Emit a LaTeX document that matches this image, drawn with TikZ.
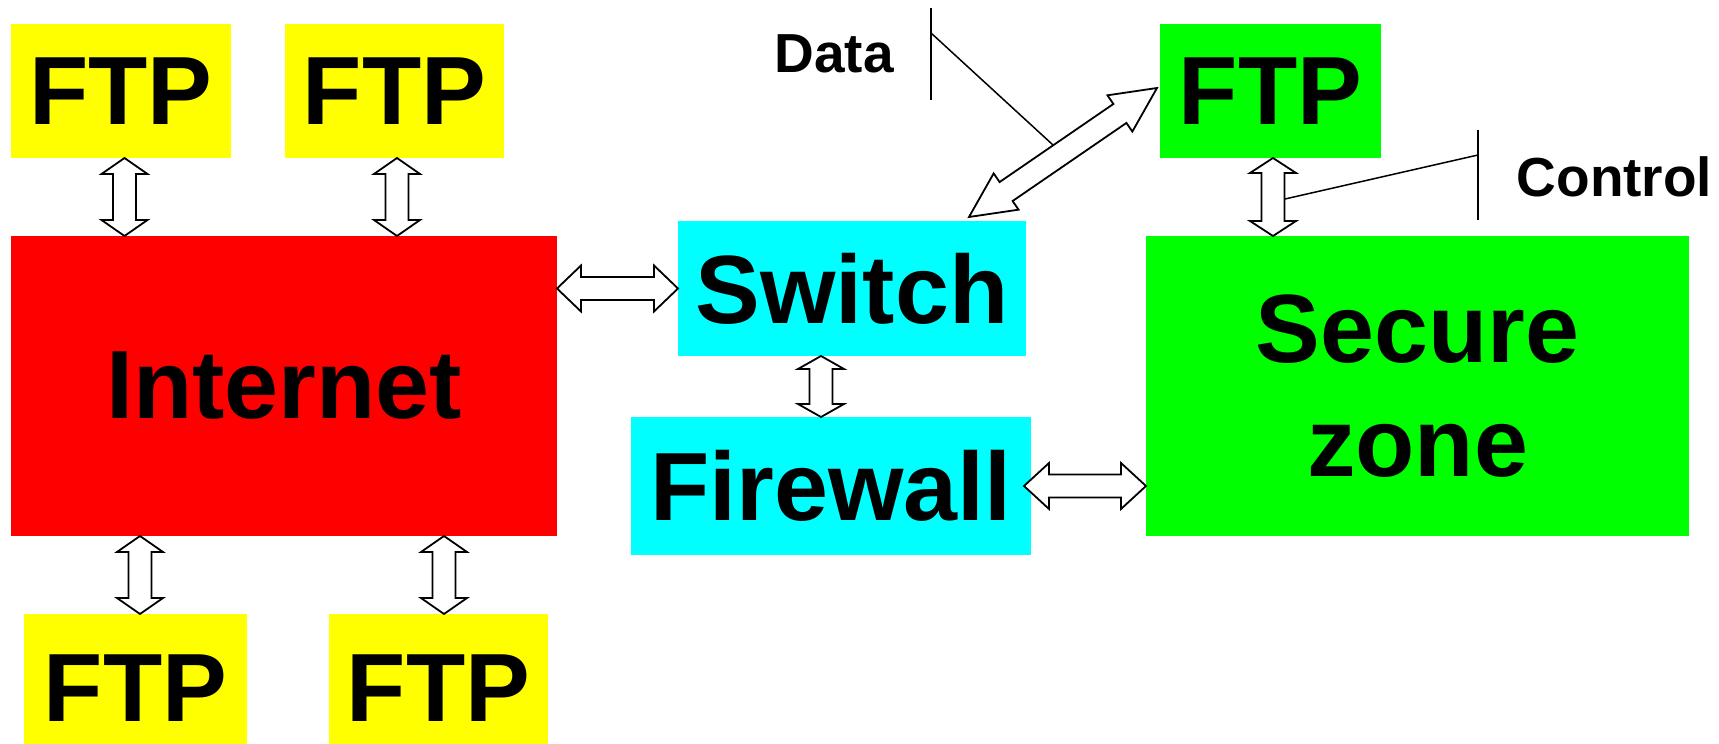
\documentclass[tikz,border=0pt]{standalone}
\usepackage{fontspec}
\setmainfont{Liberation Sans}
\usetikzlibrary{calc}

\definecolor{ftpyellow}{RGB}{255,255,0}
\definecolor{netred}{RGB}{255,0,0}
\definecolor{devcyan}{RGB}{0,255,255}
\definecolor{safegreen}{RGB}{0,255,0}

\tikzset{
  box/.style={inner sep=0pt, outer sep=0pt, text=black, align=center,
    font=\fontsize{97}{114}\selectfont\bfseries},
  tag/.style={inner sep=0pt, outer sep=0pt, text=black,
    font=\fontsize{55}{64}\selectfont\bfseries},
  arrowline/.style={draw=black, fill=white, line width=1.8pt, line join=miter},
  callout/.style={draw=black, line width=1.5pt},
}

% Hollow double-headed block arrow between two points.
% #1 head half-width (optional), #2 start, #3 end, #4 head length
\newcommand\bidir[4][23]{%
  \draw[arrowline] let \p1=($#3-#2$), \n1={atan2(\y1,\x1)} in
    #2 -- ($#2+(\n1:#4)+(\n1+90:#1)$) -- ($#2+(\n1:#4)+(\n1+90:11.5)$)
    -- ($#3+(\n1:-#4)+(\n1+90:11.5)$) -- ($#3+(\n1:-#4)+(\n1+90:#1)$)
    -- #3 -- ($#3+(\n1:-#4)+(\n1-90:#1)$) -- ($#3+(\n1:-#4)+(\n1-90:11.5)$)
    -- ($#2+(\n1:#4)+(\n1-90:11.5)$) -- ($#2+(\n1:#4)+(\n1-90:#1)$) -- cycle;}

\begin{document}
\begin{tikzpicture}[x=1pt, y=1pt]
  \useasboundingbox (0,0) rectangle (1719,744);
  \clip (0,0) rectangle (1719,744);

  % external FTP servers and the Internet
  \node[box, fill=ftpyellow, minimum width=220, minimum height=134] (ftpa) at (121,653) {FTP};
  \node[box, fill=ftpyellow, minimum width=219, minimum height=134] (ftpb) at (394.5,653) {FTP};
  \node[box, fill=netred, minimum width=546, minimum height=300] (inet) at (284,358) {Internet};
  \node[box, fill=ftpyellow, minimum width=223, minimum height=148] (ftpc) at (135.5,56) {FTP};
  \node[box, fill=ftpyellow, minimum width=219, minimum height=148] (ftpd) at (438.5,56) {FTP};

  % switch and firewall
  \node[box, fill=devcyan, minimum width=348, minimum height=135] (sw) at (852,455.5) {Switch};
  \node[box, fill=devcyan, minimum width=400, minimum height=138] (fw) at (831,258) {Firewall};

  % secure side
  \node[box, fill=safegreen, minimum width=221, minimum height=134] (ftpe) at (1270.5,653) {FTP};
  \node[box, fill=safegreen, minimum width=543, minimum height=300] (sec) at (1417.5,358) {Secure\\zone};

  % channel labels
  \node[tag] (data) at (834,690) {Data};
  \node[tag] (ctrl) at (1614.5,567) {Control};

  \coordinate (dtop) at (931,736);
  \coordinate (dbot) at (931,644);
  \coordinate (dknee) at (931,711);
  \coordinate (dend) at (1053,599);
  \draw[callout] (dtop) -- (dbot);
  \draw[callout] (dknee) -- (dend);

  \coordinate (ctop) at (1478,614);
  \coordinate (cbot) at (1478,524);
  \coordinate (cknee) at (1478,589);
  \coordinate (cend) at (1285,545);
  \draw[callout] (ctop) -- (cbot);
  \draw[callout] (cknee) -- (cend);

  % links
  \bidir{([xshift=3.5]ftpa.south)}{([xshift=3.5]ftpa.south |- inet.north)}{16}
  \bidir{([xshift=2.5]ftpb.south)}{([xshift=2.5]ftpb.south |- inet.north)}{16}
  \bidir{([xshift=4.5]ftpc.north |- inet.south)}{([xshift=4.5]ftpc.north)}{16}
  \bidir{([xshift=5.5]ftpd.north |- inet.south)}{([xshift=5.5]ftpd.north)}{16}
  \bidir{(inet.east |- sw.west)}{(sw.west)}{24}
  \bidir{([xshift=-31]sw.south)}{([xshift=-31]sw.south |- fw.north)}{13}
  \bidir{([xshift=-7]fw.east)}{(sec.west |- fw.east)}{25}
  \bidir{([xshift=2.5]ftpe.south)}{([xshift=2.5]ftpe.south |- sec.north)}{15}
  \bidir[22]{([shift={(117,4)}]sw.north)}{([shift={(-3,3)}]ftpe.west)}{45}
\end{tikzpicture}
\end{document}
